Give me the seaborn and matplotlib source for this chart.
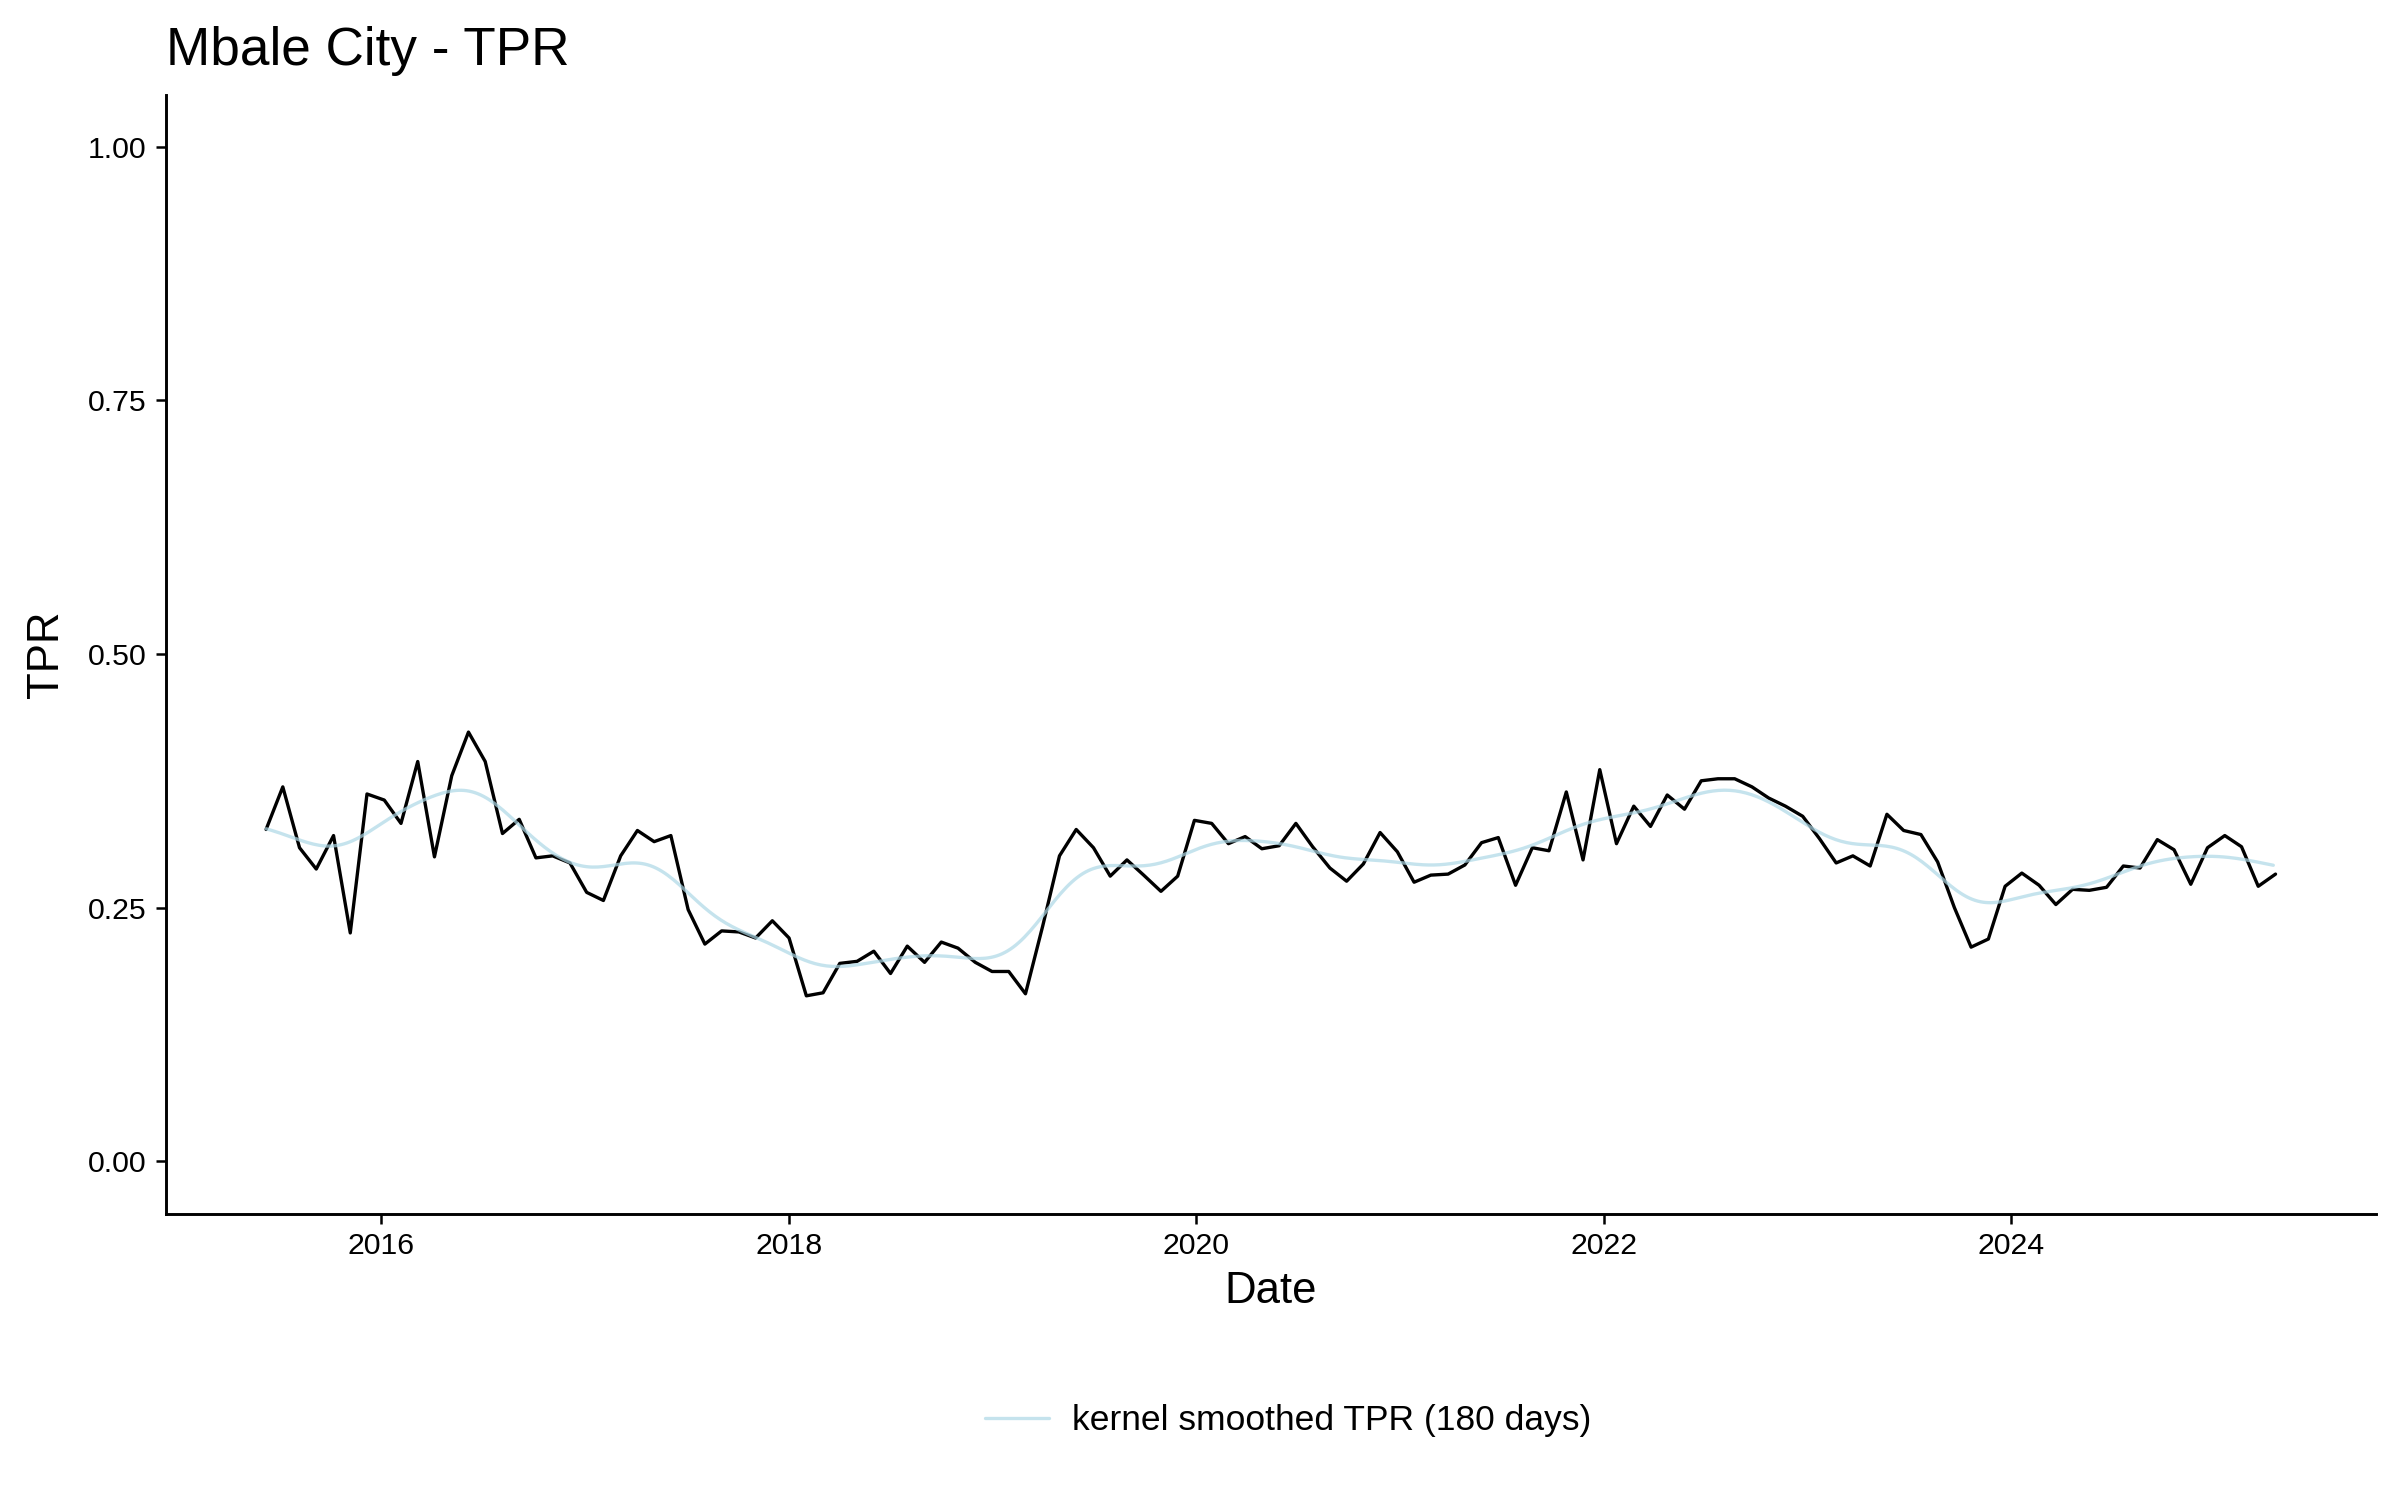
import numpy as np
import pandas as pd
import matplotlib
matplotlib.use("Agg")
import matplotlib.pyplot as plt
import matplotlib.dates as mdates
import seaborn as sns

sns.set_style("ticks")
plt.rcParams['font.family'] = ['Liberation Sans', 'DejaVu Sans']
plt.rcParams['text.color'] = 'black'
plt.rcParams['axes.labelcolor'] = 'black'

# Monthly TPR, Mbale City
first_date = "2015-06-08"
last_date = "2025-04-20"
tpr = [
    0.327, 0.369, 0.309, 0.288, 0.321, 0.225, 0.362, 0.356, 0.333, 0.394,
    0.300, 0.380, 0.423, 0.394, 0.323, 0.337, 0.299, 0.301, 0.294, 0.265,
    0.257, 0.301, 0.326, 0.315, 0.321, 0.248, 0.214, 0.227, 0.226, 0.220,
    0.237, 0.220, 0.163, 0.166, 0.195, 0.197, 0.207, 0.185, 0.212, 0.196,
    0.216, 0.210, 0.196, 0.187, 0.187, 0.165, 0.232, 0.301, 0.327, 0.309,
    0.281, 0.297, 0.282, 0.266, 0.281, 0.336, 0.333, 0.313, 0.320, 0.308,
    0.311, 0.333, 0.310, 0.289, 0.276, 0.293, 0.324, 0.305, 0.275, 0.282,
    0.283, 0.292, 0.314, 0.319, 0.272, 0.309, 0.306, 0.364, 0.297, 0.386,
    0.313, 0.350, 0.330, 0.361, 0.347, 0.375, 0.377, 0.377, 0.369, 0.358,
    0.350, 0.340, 0.318, 0.294, 0.301, 0.291, 0.342, 0.326, 0.322, 0.295,
    0.250, 0.211, 0.219, 0.271, 0.284, 0.272, 0.253, 0.268, 0.267, 0.270,
    0.291, 0.289, 0.317, 0.307, 0.273, 0.309, 0.321, 0.310, 0.271, 0.283,
]
bandwidth_days = 180
smooth_label = "kernel smoothed TPR (180 days)"

dates = pd.date_range(first_date, last_date, periods=len(tpr)).normalize()
df = pd.DataFrame({"date": dates, "tpr": tpr})

# kernel smoother like R's ksmooth(kernel="normal"): quartiles at +/- 0.25*bandwidth
t = (df["date"] - df["date"].iloc[0]).dt.days.to_numpy(dtype=float)
grid = np.arange(t[0], t[-1] + 1, 5.0)
sd = 0.25 * bandwidth_days / 0.6744898
w = np.exp(-0.5 * ((grid[:, None] - t[None, :]) / sd) ** 2)
sm = (w * df["tpr"].to_numpy()[None, :]).sum(axis=1) / w.sum(axis=1)
smooth = pd.DataFrame({"date": df["date"].iloc[0] + pd.to_timedelta(grid, unit="D"),
                       "tpr": sm, "series": smooth_label})

fig = plt.figure(figsize=(16, 10), dpi=150)
ax = fig.add_axes([0.069, 0.191, 0.921, 0.746])

sns.lineplot(data=df, x="date", y="tpr", color="black", linewidth=1.6, ax=ax, legend=False)
sns.lineplot(data=smooth, x="date", y="tpr", hue="series", palette=["lightblue"],
             alpha=0.7, linewidth=1.6, ax=ax)

# ggplot-like 5% expansion
d0, d1 = df["date"].min(), df["date"].max()
pad = (d1 - d0) * 0.05
ax.set_xlim(d0 - pad, d1 + pad)
ax.set_ylim(-0.0516, 1.0516)
ax.set_yticks([0, 0.25, 0.5, 0.75, 1.0])
ax.set_yticklabels(["0.00", "0.25", "0.50", "0.75", "1.00"])
ax.xaxis.set_major_locator(mdates.YearLocator(2))
ax.xaxis.set_major_formatter(mdates.DateFormatter("%Y"))

for s in ["top", "right"]:
    ax.spines[s].set_visible(False)
for s in ["left", "bottom"]:
    ax.spines[s].set_linewidth(1.4)
    ax.spines[s].set_color("black")
ax.tick_params(axis="both", labelsize=14.5, colors="black", length=5, width=1.2, pad=4)

ax.set_xlabel("Date", fontsize=21, labelpad=5, color="black")
ax.set_ylabel("TPR", fontsize=21, labelpad=10, color="black")
ax.set_title("Mbale City - TPR", fontsize=25.5, loc="left", pad=14, x=0.0, color="black")

handles, labels = ax.get_legend_handles_labels()
leg = ax.legend(handles=handles, labels=labels, loc="center", bbox_to_anchor=(0.508, -0.185),
                frameon=False, fontsize=17, handlelength=1.8, handletextpad=0.65)
for txt in leg.get_texts():
    txt.set_color("black")

fig.savefig("out.png", dpi=150)
